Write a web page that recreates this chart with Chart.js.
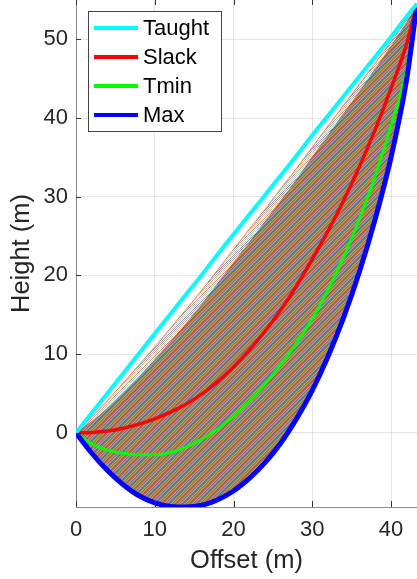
<!DOCTYPE html>
<html><head><meta charset="utf-8">
<script src="https://cdn.jsdelivr.net/npm/chart.js@4.4.1/dist/chart.umd.min.js"></script>
<style>html,body{margin:0;padding:0;background:#fff;overflow:hidden}#wrap{width:417px;height:579px;position:relative}</style>
</head><body><div id="wrap"><canvas id="c" width="417" height="579"></canvas></div>
<script>
// ---- data ----
const offsetX    = [0, 2, 4, 6, 8, 10, 12, 14, 16, 18, 20, 22, 24, 26, 28, 30, 32, 34, 36, 38, 40, 42, 43.3];
const taughtY    = [0, 2.52, 5.03, 7.55, 10.07, 12.59, 15.1, 17.6, 20.1, 22.7, 25.2, 27.7, 30.2, 32.7, 35.2, 37.8, 40.3, 42.8, 45.3, 47.8, 50.3, 52.9, 54.5];
const slackY     = [0, 0.05, 0.22, 0.58, 1.1, 1.78, 2.62, 3.66, 4.94, 6.5, 8.36, 10.5, 12.9, 15.62, 18.66, 22.06, 25.66, 29.56, 33.86, 38.56, 43.76, 49.46, 54.5];
const tminY      = [0, -1.4, -2.2, -2.6, -2.8, -2.8, -2.5, -1.8, -0.8, 0.5, 2.1, 4.0, 6.2, 8.7, 11.4, 14.5, 18.2, 22.4, 27.2, 32.7, 39.0, 46.3, 54.5];
const maxY       = [0, -2.6, -4.8, -6.6, -8.0, -8.9, -9.35, -9.43, -9.2, -8.5, -7.4, -5.8, -3.8, -1.3, 1.8, 5.4, 9.7, 14.7, 20.5, 27.2, 35.0, 45.0, 54.5];
const familyTopY = [0, 2.0, 4.1, 6.35, 8.6, 10.9, 13.3, 15.7, 18.15, 20.7, 23.3, 25.85, 28.4, 31.0, 33.6, 36.3, 39.0, 41.65, 44.3, 47.0, 49.7, 52.5, 54.5];
const familyMidY = [0, 1.52, 3.23, 5.15, 7.17, 9.39, 11.65, 14.0, 16.45, 19.1, 21.7, 24.3, 26.95, 29.6, 32.3, 35.15, 37.9, 40.7, 43.5, 46.35, 49.25, 52.3, 54.5];
const xTicks = [0, 10, 20, 30, 40];
const yTicks = [0, 10, 20, 30, 40, 50];
const legendLabels = ['Taught', 'Slack', 'Tmin', 'Max'];

const pts = ys => offsetX.map((x, i) => ({x, y: ys[i]}));
const lineColors = ['#00FFFF', '#FF0000', '#00FF00', '#0000FF'];
const lineWidths = [4, 3.5, 3, 5];
const matlabColors = ['#0072BD','#D95319','#EDB120','#7E2F8E','#77AC30','#4DBEEE','#A2142F'];

function makePattern(base, alpha, gap) {
  const m = matlabColors.length;
  const n = gap ? m * 2 : m;
  const c = document.createElement('canvas'); c.width = n; c.height = n;
  const g = c.getContext('2d');
  g.fillStyle = base; g.fillRect(0, 0, n, n);
  g.globalAlpha = alpha;
  for (let i = 0; i < n; i++) for (let j = 0; j < n; j++) {
    const k = (i + j) % n;
    if (gap && k % 2 === 1) continue;
    g.fillStyle = matlabColors[gap ? k / 2 : k];
    g.fillRect(i, j, 1, 1);
  }
  return c.getContext('2d').createPattern(c, 'repeat');
}
const densePattern = makePattern('rgb(176,140,112)', 0.45, false);
const lightPattern = makePattern('#ffffff', 0.55, true);

const fontFam = '"Liberation Sans", Arial, Helvetica, sans-serif';
const txtColor = '#262626';

const legendPlugin = {
  id: 'boxLegend',
  afterDraw(chart) {
    const g = chart.ctx;
    g.save();
    g.fillStyle = '#fff';
    g.fillRect(88, 11, 134, 121);
    g.strokeStyle = '#444'; g.lineWidth = 1;
    g.strokeRect(88.5, 11.5, 133, 120);
    g.font = '22px ' + fontFam;
    g.textBaseline = 'middle'; g.textAlign = 'left';
    legendLabels.forEach((lab, i) => {
      const y = 28 + i * 29;
      g.strokeStyle = lineColors[i]; g.lineWidth = 4;
      g.beginPath(); g.moveTo(94, y); g.lineTo(138, y); g.stroke();
      g.fillStyle = '#000';
      g.fillText(lab, 143, y + 1);
    });
    g.restore();
  }
};
const tickPlugin = {
  id: 'inTicks',
  afterDatasetsDraw(chart) {
    const g = chart.ctx, a = chart.chartArea, xs = chart.scales.x, ys = chart.scales.y;
    g.save(); g.strokeStyle = '#333'; g.lineWidth = 1;
    xTicks.forEach(v => {
      const px = Math.round(xs.getPixelForValue(v)) + 0.5;
      g.beginPath(); g.moveTo(px, a.bottom); g.lineTo(px, a.bottom - 6);
      g.moveTo(px, a.top); g.lineTo(px, a.top + 5); g.stroke();
    });
    yTicks.forEach(v => {
      const py = Math.round(ys.getPixelForValue(v)) + 0.5;
      g.beginPath(); g.moveTo(a.left, py); g.lineTo(a.left + 5, py); g.stroke();
    });
    g.restore();
  }
};

const ds = (label, ys, color, width, extra) => Object.assign({
  label, data: pts(ys), borderColor: color, borderWidth: width,
  pointRadius: 0, cubicInterpolationMode: 'monotone', fill: false
}, extra || {});

new Chart(document.getElementById('c'), {
  type: 'line',
  data: {
    datasets: [
      ds(legendLabels[0], taughtY, lineColors[0], lineWidths[0]),
      ds(legendLabels[3], maxY, lineColors[3], lineWidths[3]),
      ds(legendLabels[2], tminY, lineColors[2], lineWidths[2]),
      ds(legendLabels[1], slackY, lineColors[1], lineWidths[1]),
      ds('familyTop', familyTopY, 'rgba(217,83,25,0.7)', 1, {fill: '+1', backgroundColor: lightPattern}),
      ds('familyMid', familyMidY, 'rgba(0,0,0,0)', 0, {fill: 1, backgroundColor: densePattern})
    ]
  },
  options: {
    responsive: false, animation: false, devicePixelRatio: 1,
    layout: {padding: {left: 0, right: 0, top: 0, bottom: 0}},
    plugins: {legend: {display: false}, tooltip: {enabled: false}},
    scales: {
      x: {
        type: 'linear', min: 0, max: 43.3,
        afterFit: s => { s.height = 72; s.paddingLeft = 0; s.paddingRight = 0; },
        afterBuildTicks: s => { s.ticks = xTicks.map(v => ({value: v})); },
        ticks: {font: {family: fontFam, size: 22}, color: txtColor, padding: 10, maxRotation: 0},
        grid: {color: 'rgba(0,0,0,0.1)', drawTicks: false},
        border: {display: true, color: '#8a8a8a'},
        title: {display: true, text: 'Offset (m)', font: {family: fontFam, size: 25.5}, color: txtColor, padding: {top: 0, bottom: 3}}
      },
      y: {
        type: 'linear', min: -9.43, max: 55,
        afterFit: s => { s.width = 76; s.paddingTop = 0; s.paddingBottom = 0; },
        afterBuildTicks: s => { s.ticks = yTicks.map(v => ({value: v})); },
        ticks: {font: {family: fontFam, size: 22}, color: txtColor, padding: 8},
        grid: {color: 'rgba(0,0,0,0.1)', drawTicks: false},
        border: {display: true, color: '#8a8a8a'},
        title: {display: true, text: 'Height (m)', font: {family: fontFam, size: 25.5}, color: txtColor, padding: {top: 7, bottom: 0}}
      }
    }
  },
  plugins: [tickPlugin, legendPlugin]
});
</script></body></html>
